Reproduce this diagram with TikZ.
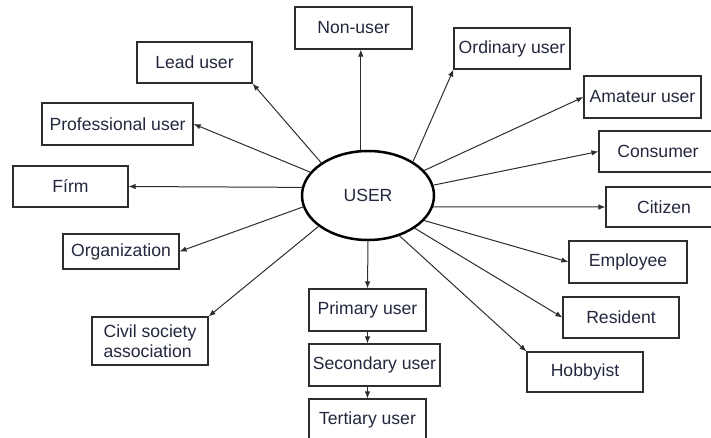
\documentclass[tikz,border=0pt]{standalone}
\usepackage{fontspec}
\setmainfont{Liberation Sans}
\usetikzlibrary{arrows.meta,shapes.geometric}

\definecolor{ink}{RGB}{35,40,62}
\definecolor{edge}{RGB}{45,45,45}

\begin{document}
\begin{tikzpicture}[
    x=1pt, y=-1pt,
    >=Latex,
    font=\fontsize{17.6}{20.5}\selectfont,
    usertype/.style={
        draw=edge,
        line width=1.1pt,
        fill=white,
        text=ink,
        align=center,
        minimum width=116pt,
        minimum height=41pt,
        inner sep=2pt
    },
    link/.style={
        draw=edge,
        line width=1pt,
        -{Latex[length=7pt,width=5.5pt]}
    }
]

\useasboundingbox (0,0) rectangle (711,438);

% --------------------------------------------------
% Centre
% --------------------------------------------------

\node[ellipse, draw=black, line width=2.5pt, text=ink,
      minimum width=132pt, minimum height=89pt, inner sep=0pt]
    (user) at (368,195.5) {USER};

% --------------------------------------------------
% Left side
% --------------------------------------------------

\node[usertype, minimum width=117pt, minimum height=42pt] (nonuser) at (353.5,28)
    {Non-user};

\node[usertype, minimum width=115pt] (lead) at (194.5,62.5)
    {Lead user};

\node[usertype, minimum width=151pt, minimum height=42pt] (professional) at (117.5,124)
    {Professional user};

\node[usertype, minimum width=115pt] (firm) at (70.5,186.5)
    {Fírm};

\node[usertype, minimum height=35pt] (organization) at (121,251.5)
    {Organization};

\node[usertype, align=left, minimum height=48pt] (civil) at (150,341)
    {Civil society\\association};

% --------------------------------------------------
% Chain below
% --------------------------------------------------

\node[usertype, minimum width=117pt, minimum height=42pt] (primary) at (367.5,310)
    {Primary user};

\node[usertype, minimum width=131pt, minimum height=42pt] (secondary) at (374.5,365)
    {Secondary user};

\node[usertype, minimum width=117pt] (tertiary) at (367.5,419.5)
    {Tertiary user};

% --------------------------------------------------
% Right side
% --------------------------------------------------

\node[usertype] (ordinary) at (512,48.5)
    {Ordinary user};

\node[usertype, minimum width=117pt, minimum height=42pt] (amateur) at (642.5,97)
    {Amateur user};

\node[usertype, minimum width=118pt] (consumer) at (658,151.5)
    {Consumer};

\node[usertype, minimum height=40pt] (citizen) at (664,207)
    {Citizen};

\node[usertype, minimum width=118pt, minimum height=42pt] (employee) at (628,262)
    {Employee};

\node[usertype] (resident) at (621,317.5)
    {Resident};

\node[usertype, minimum height=40pt] (hobbyist) at (585,372)
    {Hobbyist};

% --------------------------------------------------
% Arrows
% --------------------------------------------------

\draw[link] (user.99) -- (user.99 |- nonuser.south);
\draw[link] (user.145) -- (lead.south east);
\draw[link] (user.158) -- (professional.east);
\draw[link] (user.173) -- (firm.east);
\draw[link] (user.190) -- (organization.east);
\draw[link] (user.212) -- (civil.north east);

\draw[link] (user.south) -- (primary.north);
\draw[link] (primary.south) -- (primary.south |- secondary.north);
\draw[link] (tertiary.north |- secondary.south) -- (tertiary.north);

\draw[link] (user.37) -- (ordinary.south west);
\draw[link] (user.24) -- (amateur.west);
\draw[link] (user.9) -- (consumer.west);
\draw[link] (user.-10) -- (citizen.west);
\draw[link] (user.-24) -- (employee.west);
\draw[link] (user.-35) -- (resident.west);
\draw[link] (user.-52) -- (hobbyist.north west);

\end{tikzpicture}
\end{document}
